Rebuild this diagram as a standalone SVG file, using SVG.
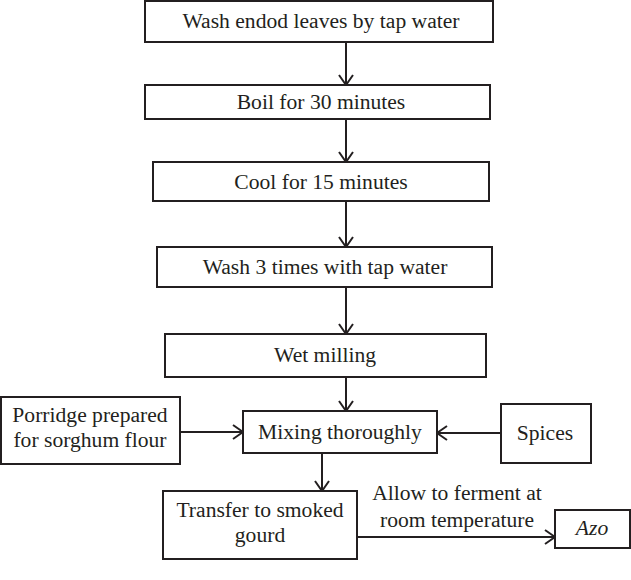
<svg xmlns="http://www.w3.org/2000/svg" width="631" height="580" viewBox="0 0 631 580">
<style>
.box{fill:#fff;stroke:#231f20;stroke-width:2}
.t{font-family:'Liberation Serif','Times New Roman','DejaVu Serif',serif;font-size:21.6px;fill:#231f20;text-anchor:middle}
.c{fill:none;stroke:#231f20;stroke-width:2;marker-end:url(#arr)}
</style>
<defs>
<marker id="arr" markerUnits="userSpaceOnUse" viewBox="0 0 12 16" markerWidth="12" markerHeight="16" refX="11" refY="8" orient="auto">
<path d="M1,1 L11,8 L1,15" fill="none" stroke="#231f20" stroke-width="2"/>
</marker>
</defs>
<rect width="631" height="580" fill="#fff"/>
<g id="connectors">
<line class="c" x1="346" y1="42" x2="346" y2="85"/>
<line class="c" x1="346" y1="119" x2="346" y2="162"/>
<line class="c" x1="346" y1="201" x2="346" y2="247"/>
<line class="c" x1="346" y1="287" x2="346" y2="334"/>
<line class="c" x1="346" y1="377" x2="346" y2="411"/>
<line class="c" x1="180" y1="432" x2="243" y2="432"/>
<line class="c" x1="501" y1="433" x2="437" y2="433"/>
<line class="c" x1="322" y1="453" x2="322" y2="491"/>
<line class="c" x1="357" y1="537" x2="555" y2="537"/>
<text class="t" font-family="Liberation Serif, serif" x="457" y="500">Allow to ferment at</text>
<text class="t" font-family="Liberation Serif, serif" x="457" y="527">room temperature</text>
</g>
<g id="n1"><rect class="box" x="145" y="1" width="348" height="41"/><text class="t" x="321" y="28">Wash endod leaves by tap water</text></g>
<g id="n2"><rect class="box" x="145" y="85" width="345" height="34"/><text class="t" x="321" y="109">Boil for 30 minutes</text></g>
<g id="n3"><rect class="box" x="153" y="162" width="336" height="39"/><text class="t" x="321" y="189">Cool for 15 minutes</text></g>
<g id="n4"><rect class="box" x="157" y="247" width="335" height="40"/><text class="t" x="325" y="274">Wash 3 times with tap water</text></g>
<g id="n5"><rect class="box" x="165" y="334" width="321" height="43"/><text class="t" x="325" y="362">Wet milling</text></g>
<g id="n6"><rect class="box" x="1" y="397" width="179" height="67"/><text class="t" x="90" y="422">Porridge prepared</text><text class="t" x="90" y="447">for sorghum flour</text></g>
<g id="n7"><rect class="box" x="243" y="411" width="194" height="42"/><text class="t" x="340" y="439">Mixing thoroughly</text></g>
<g id="n8"><rect class="box" x="501" y="404" width="90" height="59"/><text class="t" x="545" y="440">Spices</text></g>
<g id="n9"><rect class="box" x="163" y="491" width="194" height="68"/><text class="t" x="260" y="517">Transfer to smoked</text><text class="t" x="260" y="542">gourd</text></g>
<g id="n10"><rect class="box" x="555" y="510" width="75" height="38"/><text class="t" x="592" y="535" font-style="italic">Azo</text></g>
</svg>
